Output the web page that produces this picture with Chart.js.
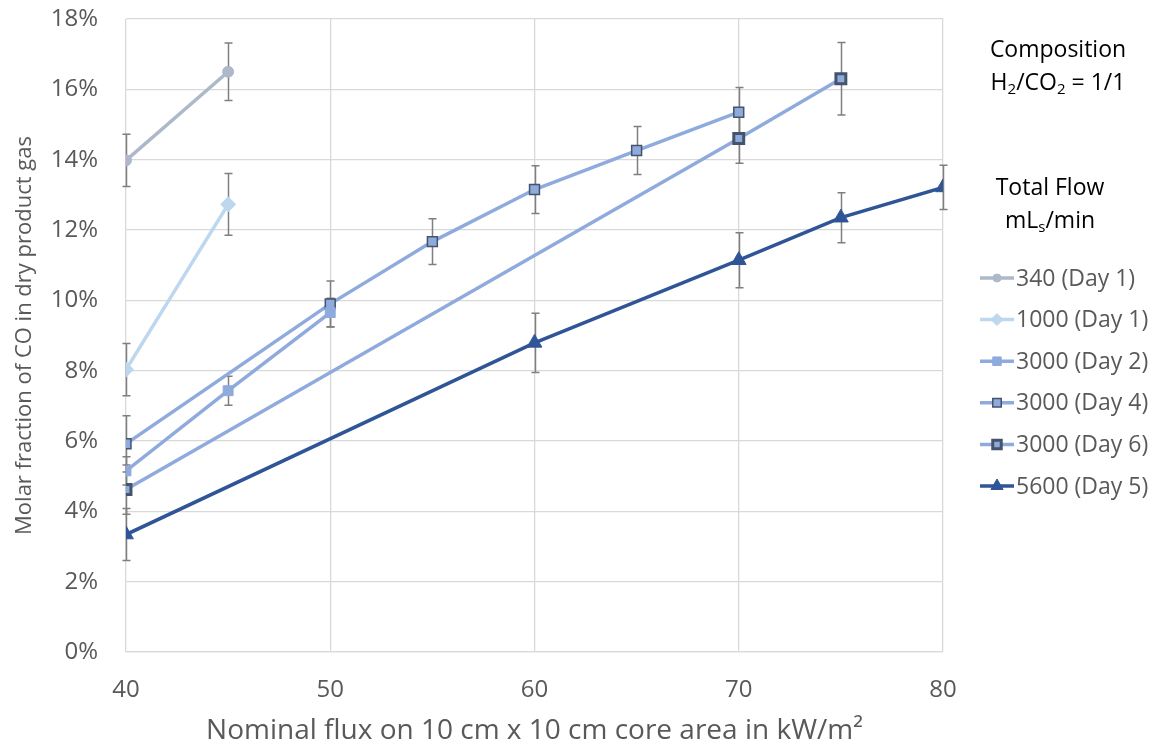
<!DOCTYPE html>
<html>
<head>
<meta charset="utf-8">
<script src="https://cdn.jsdelivr.net/npm/chart.js@4"></script>
<style>
  html, body { margin: 0; padding: 0; background: #fff; }
  #wrap { width: 1161px; height: 748px; }
</style>
</head>
<body>
<div id="wrap"><canvas id="chart"></canvas></div>
<script>
// Data (CO molar fraction in %, error = +/- in %)
const labels = ['340 (Day 1)', '1000 (Day 1)', '3000 (Day 2)', '3000 (Day 4)', '3000 (Day 6)', '5600 (Day 5)'];

const flux340 = [40, 45];
const co340 = [13.98, 16.5];
const err340 = [0.74, 0.82];

const flux1000 = [40, 45];
const co1000 = [8.03, 12.73];
const err1000 = [0.74, 0.88];

const fluxDay2 = [40, 45, 50];
const coDay2 = [5.15, 7.43, 9.65];
const errDay2 = [0.4, 0.41, 0.41];

const fluxDay4 = [40, 50, 55, 60, 65, 70];
const coDay4 = [5.92, 9.9, 11.67, 13.15, 14.26, 15.35];
const errDay4 = [0.8, 0.65, 0.65, 0.68, 0.68, 0.7];

const fluxDay6 = [40, 70, 75];
const coDay6 = [4.62, 14.6, 16.3];
const errDay6 = [0.7, 0.7, 1.03];

const flux5600 = [40, 60, 70, 75, 80];
const co5600 = [3.34, 8.79, 11.14, 12.35, 13.21];
const err5600 = [0.74, 0.84, 0.78, 0.71, 0.63];

const FONT = '"Open Sans", sans-serif';
const GREY = '#595959';

function pts(xs, ys) {
    return xs.map((x, i) => ({ x: x, y: ys[i] }));
}

function series(label, xs, ys, errs, color, style) {
    return Object.assign({
        label: label,
        data: pts(xs, ys),
        errors: errs,
        borderColor: color,
        backgroundColor: color,
        pointBorderColor: color,
        borderWidth: 3.5,
        pointRadius: 5,
        pointBorderWidth: 1,
        tension: 0
    }, style);
}

// error bars drawn under the lines
const errorBars = {
    id: 'errorBars',
    beforeDatasetsDraw(chart) {
        const ctx = chart.ctx;
        const xs = chart.scales.x, ys = chart.scales.y;
        ctx.save();
        ctx.strokeStyle = '#7f7f7f';
        ctx.lineWidth = 1.5;
        chart.data.datasets.forEach(ds => {
            ds.data.forEach((p, i) => {
                const e = ds.errors[i];
                const px = Math.round(xs.getPixelForValue(p.x)) + 0.5;
                const top = ys.getPixelForValue(p.y + e);
                const bot = ys.getPixelForValue(p.y - e);
                ctx.beginPath();
                ctx.moveTo(px, top); ctx.lineTo(px, bot);
                ctx.moveTo(px - 4, top); ctx.lineTo(px + 4, top);
                ctx.moveTo(px - 4, bot); ctx.lineTo(px + 4, bot);
                ctx.stroke();
            });
        });
        ctx.restore();
    }
};

// text with a subscript part: parts = [[text, sub?], ...]
function richText(ctx, parts, cx, y, size) {
    const sub = Math.round(size * 0.65);
    let w = 0;
    parts.forEach(p => {
        ctx.font = (p[1] ? sub : size) + 'px ' + FONT;
        w += ctx.measureText(p[0]).width;
    });
    let x = cx - w / 2;
    parts.forEach(p => {
        ctx.font = (p[1] ? sub : size) + 'px ' + FONT;
        ctx.fillText(p[0], x, p[1] ? y + size * 0.28 : y);
        x += ctx.measureText(p[0]).width;
    });
}

// legend + side notes on the right
const sidePanel = {
    id: 'sidePanel',
    afterDraw(chart) {
        const ctx = chart.ctx;
        ctx.save();
        ctx.textBaseline = 'middle';
        ctx.fillStyle = '#000';
        richText(ctx, [['Composition', false]], 1058, 50, 23);
        richText(ctx, [['H', false], ['2', true], ['/CO', false], ['2', true], [' = 1/1', false]], 1058, 83, 23);
        richText(ctx, [['Total Flow', false]], 1050, 188, 23);
        richText(ctx, [['mL', false], ['s', true], ['/min', false]], 1050, 221, 23);

        chart.data.datasets.forEach((ds, i) => {
            const y = 278 + i * 41.6;
            ctx.strokeStyle = ds.borderColor;
            ctx.lineWidth = ds.borderWidth;
            ctx.beginPath();
            ctx.moveTo(980, y); ctx.lineTo(1014, y);
            ctx.stroke();
            ctx.fillStyle = ds.pointBackgroundColor || ds.backgroundColor;
            ctx.strokeStyle = ds.pointBorderColor;
            ctx.lineWidth = ds.pointBorderWidth;
            Chart.helpers.drawPoint(ctx, {
                pointStyle: ds.pointStyle || 'circle',
                radius: ds.legendRadius || ds.pointRadius,
                borderWidth: ds.pointBorderWidth,
                rotation: 0
            }, 997, y);
            ctx.fillStyle = GREY;
            ctx.font = '23px ' + FONT;
            ctx.textAlign = 'left';
            ctx.fillText(ds.label, 1016, y + 1);
        });
        ctx.restore();
    }
};

new Chart(document.getElementById('chart'), {
    type: 'line',
    data: {
        datasets: [
            series(labels[0], flux340, co340, err340, '#adb9ca', { pointStyle: 'circle', pointRadius: 5.5, legendRadius: 4 }),
            series(labels[1], flux1000, co1000, err1000, '#bdd7ee', { pointStyle: 'rectRot', pointRadius: 7.5, legendRadius: 6 }),
            series(labels[2], fluxDay2, coDay2, errDay2, '#8faadc', { pointStyle: 'rect', pointRadius: 7, legendRadius: 6 }),
            series(labels[3], fluxDay4, coDay4, errDay4, '#8faadc', { pointStyle: 'rect', pointRadius: 7, legendRadius: 6, pointBackgroundColor: '#8faadc', pointBorderColor: '#44546a', pointBorderWidth: 1.5 }),
            series(labels[4], fluxDay6, coDay6, errDay6, '#8faadc', { pointStyle: 'rect', pointRadius: 7, legendRadius: 6, pointBackgroundColor: '#8faadc', pointBorderColor: '#44546a', pointBorderWidth: 3 }),
            series(labels[5], flux5600, co5600, err5600, '#2f5597', { pointStyle: 'triangle', pointRadius: 8.5, legendRadius: 7 })
        ]
    },
    options: {
        responsive: true,
        maintainAspectRatio: false,
        animation: false,
        layout: { padding: { top: 19, right: 218, left: 12, bottom: 0 } },
        plugins: {
            legend: { display: false },
            tooltip: { enabled: false }
        },
        scales: {
            x: {
                type: 'linear',
                min: 40,
                max: 80,
                ticks: { stepSize: 10, color: GREY, font: { family: FONT, size: 24 }, padding: 24 },
                grid: { color: '#d9d9d9', lineWidth: 1.3, drawTicks: false },
                border: { color: '#d9d9d9', width: 1.3 },
                title: {
                    display: true,
                    text: 'Nominal flux on 10 cm x 10 cm core area in kW/m²',
                    color: GREY,
                    font: { family: FONT, size: 28 },
                    padding: { top: 10, bottom: 0 }
                },
                afterFit: s => { s.height = 96; s.paddingLeft = 0; s.paddingRight = 0; }
            },
            y: {
                min: 0,
                max: 18,
                ticks: { stepSize: 2, color: GREY, font: { family: FONT, size: 24 }, padding: 28, callback: v => v + '%' },
                grid: { color: '#d9d9d9', lineWidth: 1.3, drawTicks: false },
                border: { display: false },
                title: {
                    display: true,
                    text: 'Molar fraction of CO in dry product gas',
                    color: GREY,
                    font: { family: FONT, size: 22 },
                    padding: { top: 0, bottom: 4 }
                },
                afterFit: s => { s.width = 114; s.paddingTop = 0; s.paddingBottom = 0; }
            }
        }
    },
    plugins: [errorBars, sidePanel]
});
</script>
</body>
</html>
